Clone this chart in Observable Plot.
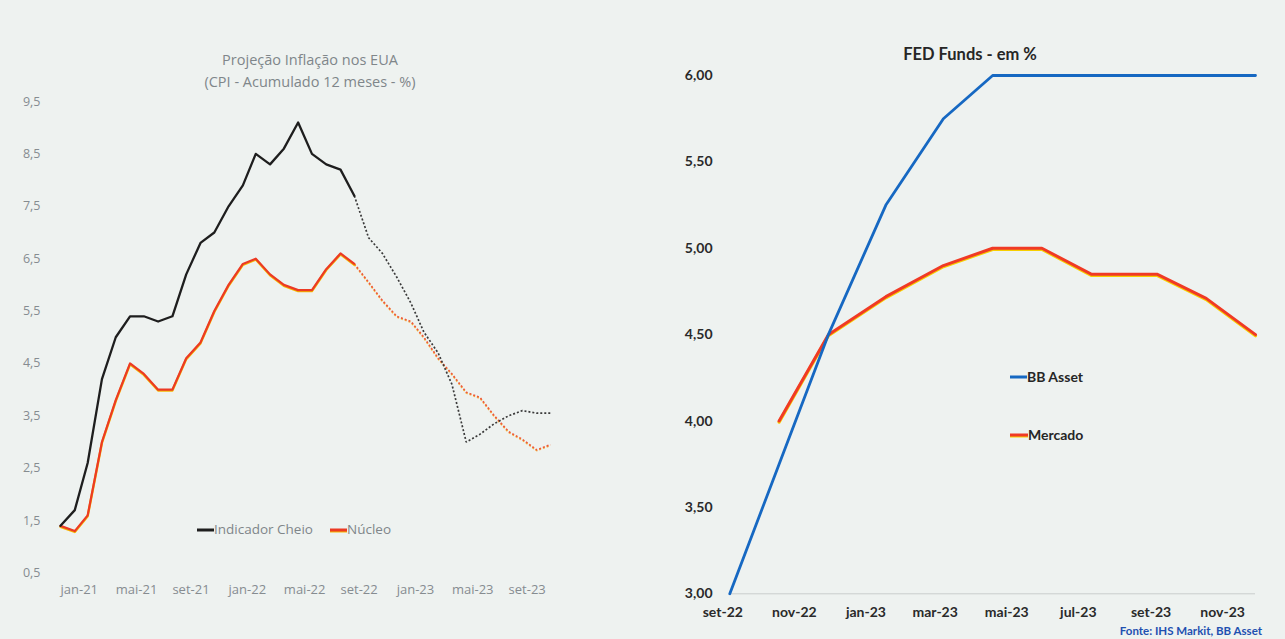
<!DOCTYPE html>
<html>
<head>
<meta charset="utf-8">
<script src="https://cdn.jsdelivr.net/npm/d3@7"></script>
<script src="https://cdn.jsdelivr.net/npm/@observablehq/plot@0.6"></script>
<style>
  html, body { margin: 0; padding: 0; background: #eef2f0; }
  #page { position: relative; width: 1285px; height: 639px; overflow: hidden; background: #eef2f0; }
  #page svg { position: absolute; top: 0; }
  .lbl { position: absolute; white-space: nowrap; transform: translateY(-50%); line-height: 1; }
  .ctr { transform: translate(-50%, -50%); }
  .key { position: absolute; height: 3px; transform: translateY(-50%); }
  .left-txt { font-family: "Open Sans", sans-serif; color: #7f868a; }
  .right-txt { font-family: "Lato", sans-serif; font-weight: 700; color: #262626; }
</style>
</head>
<body>
<div id="page"></div>
<script>
// ---- Inflação EUA: CPI acumulado 12 meses (%) ----
const meses = ["jan", "fev", "mar", "abr", "mai", "jun", "jul", "ago", "set", "out", "nov", "dez"];
const cpiMonths = d3.utcMonth.range(new Date(Date.UTC(2021, 0, 1)), new Date(Date.UTC(2024, 0, 1))); // jan-21 .. dez-23

// realizado: jan-21 .. out-22
const cheio  = [1.4, 1.7, 2.6, 4.2, 5.0, 5.4, 5.4, 5.3, 5.4, 6.2, 6.8, 7.0,
                7.5, 7.9, 8.5, 8.3, 8.6, 9.1, 8.5, 8.3, 8.2, 7.7];
const nucleo = [1.4, 1.3, 1.6, 3.0, 3.8, 4.5, 4.3, 4.0, 4.0, 4.6, 4.9, 5.5,
                6.0, 6.4, 6.5, 6.2, 6.0, 5.9, 5.9, 6.3, 6.6, 6.4];
// projeção: out-22 .. dez-23
const cheioProj  = [7.7, 6.9, 6.6, 6.15, 5.65, 5.1, 4.7, 4.1, 3.0, 3.15, 3.35, 3.5, 3.6, 3.55, 3.55];
const nucleoProj = [6.4, 6.05, 5.7, 5.4, 5.3, 5.0, 4.6, 4.3, 3.95, 3.85, 3.5, 3.2, 3.05, 2.85, 2.95];
const projStart = 21; // índice de out-22

const cpiYTicks = [0.5, 1.5, 2.5, 3.5, 4.5, 5.5, 6.5, 7.5, 8.5, 9.5];
const cpiXTicks = ["2021-01-01", "2021-05-01", "2021-09-01", "2022-01-01", "2022-05-01",
                   "2022-09-01", "2023-01-01", "2023-05-01", "2023-09-01"].map(d => new Date(d));

// ---- FED Funds (%) por reunião do FOMC ----
const fomcDatas = ["2022-09-21", "2022-11-02", "2022-12-14", "2023-02-01", "2023-03-22", "2023-05-03",
                   "2023-06-14", "2023-07-26", "2023-09-20", "2023-11-01", "2023-12-13"].map(d => new Date(d));
const bbAsset = [3.00, 3.75, 4.50, 5.25, 5.75, 6.00, 6.00, 6.00, 6.00, 6.00, 6.00];
const mercado = [null, 4.00, 4.50, 4.72, 4.90, 5.00, 5.00, 4.85, 4.85, 4.71, 4.50];

const fedYTicks = [3.0, 3.5, 4.0, 4.5, 5.0, 5.5, 6.0];
const fedXTicks = ["2022-09-15", "2022-11-15", "2023-01-15", "2023-03-15",
                   "2023-05-15", "2023-07-15", "2023-09-15", "2023-11-15"].map(d => new Date(d));

const fmtMes = d => `${meses[d.getUTCMonth()]}-${String(d.getUTCFullYear()).slice(2)}`;
const fmtVirgula = digits => v => v.toFixed(digits).replace(".", ",");

// tabelas para as marcas
const tCheio = cheio.map((v, i) => ({date: cpiMonths[i], v}));
const tNucleo = nucleo.map((v, i) => ({date: cpiMonths[i], v}));
const tCheioProj = cheioProj.map((v, i) => ({date: cpiMonths[projStart + i], v}));
const tNucleoProj = nucleoProj.map((v, i) => ({date: cpiMonths[projStart + i], v}));
const tBB = bbAsset.map((v, i) => ({date: fomcDatas[i], v}));
const tMerc = mercado.map((v, i) => ({date: fomcDatas[i], v})).filter(d => d.v != null);

const page = document.getElementById("page");
const dotted = {strokeWidth: 1.7, strokeDasharray: "2,2", strokeLinecap: "butt", strokeLinejoin: "miter"};

// ---------- gráfico da esquerda ----------
const cpiPlot = Plot.plot({
  width: 620,
  height: 639,
  marginLeft: 40,
  marginBottom: 59,
  marginTop: 0,
  marginRight: 0,
  style: {background: "transparent", fontFamily: "Open Sans, sans-serif", fontSize: "12.5px", color: "#868c90"},
  x: {type: "utc", domain: [cpiMonths[0], cpiMonths[cpiMonths.length - 1]], range: [60, 550], label: null},
  y: {domain: [0.5, 9.5], range: [572.5, 101], label: null},
  marks: [
    Plot.axisY({ticks: cpiYTicks, tickFormat: fmtVirgula(1), tickSize: 0, tickPadding: 0, label: null}),
    Plot.axisX({ticks: cpiXTicks, tickFormat: fmtMes, tickSize: 0, tickPadding: 4, textAnchor: "start", fontSize: 13, label: null}),
    // projeções (pontilhadas)
    Plot.line(tNucleoProj, {x: "date", y: "v", stroke: "#f3c04a", dy: 0.8, ...dotted}),
    Plot.line(tNucleoProj, {x: "date", y: "v", stroke: "#ee5a3c", ...dotted}),
    Plot.line(tCheioProj, {x: "date", y: "v", stroke: "#3a3a3a", ...dotted}),
    // realizado
    Plot.line(tNucleo, {x: "date", y: "v", stroke: "#f5b800", strokeWidth: 2.4, dy: 0.9, strokeLinejoin: "round"}),
    Plot.line(tNucleo, {x: "date", y: "v", stroke: "#ec3a24", strokeWidth: 2.2, strokeLinejoin: "round"}),
    Plot.line(tCheio, {x: "date", y: "v", stroke: "#1e1e1e", strokeWidth: 2.3, strokeLinejoin: "round"})
  ]
});
cpiPlot.style.left = "0px";
page.appendChild(cpiPlot);

// ---------- gráfico da direita ----------
const fedPlot = Plot.plot({
  width: 665,
  height: 639,
  marginLeft: 92,
  marginBottom: 45.7,
  marginTop: 0,
  marginRight: 0,
  style: {background: "transparent", fontFamily: "Lato, sans-serif", fontSize: "14px", fontWeight: 700, color: "#2a2a2a"},
  x: {type: "utc", domain: [fomcDatas[0], fomcDatas[fomcDatas.length - 1]], range: [109.3, 635], label: null},
  y: {domain: [3, 6], range: [593.3, 75], label: null},
  marks: [
    Plot.ruleY([{y: 3, x1: fomcDatas[0], x2: fomcDatas[fomcDatas.length - 1]}],
               {y: "y", x1: "x1", x2: "x2", stroke: "#c9cdcc", strokeWidth: 1}),
    Plot.axisY({ticks: fedYTicks, tickFormat: fmtVirgula(2), tickSize: 0, tickPadding: 0, label: null}),
    Plot.axisX({ticks: fedXTicks, tickFormat: fmtMes, tickSize: 0, tickPadding: 13.5, label: null}),
    Plot.line(tMerc, {x: "date", y: "v", stroke: "#f7cf00", strokeWidth: 3.2, dy: 1.1, strokeLinejoin: "round"}),
    Plot.line(tMerc, {x: "date", y: "v", stroke: "#f03a25", strokeWidth: 3, strokeLinejoin: "round"}),
    Plot.line(tBB, {x: "date", y: "v", stroke: "#1668c2", strokeWidth: 2.8, strokeLinejoin: "round"})
  ]
});
fedPlot.style.left = "620px";
page.appendChild(fedPlot);

// ---------- títulos, legendas e fonte ----------
function addText(html, x, y, cls, css) {
  const el = document.createElement("div");
  el.className = "lbl " + cls;
  el.innerHTML = html;
  el.style.left = x + "px";
  el.style.top = y + "px";
  Object.assign(el.style, css || {});
  page.appendChild(el);
}
function addKey(x, y, w, color, under) {
  if (under) {
    const u = document.createElement("div");
    u.className = "key";
    Object.assign(u.style, {left: x + "px", top: (y + 1) + "px", width: w + "px", background: under});
    page.appendChild(u);
  }
  const el = document.createElement("div");
  el.className = "key";
  Object.assign(el.style, {left: x + "px", top: y + "px", width: w + "px", background: color});
  page.appendChild(el);
}

addText("Projeção Inflação nos EUA", 310, 60, "ctr left-txt", {fontSize: "14.5px"});
addText("(CPI - Acumulado 12 meses - %)", 310, 81.5, "ctr left-txt", {fontSize: "14.5px"});

addKey(197, 530, 17, "#1e1e1e");
addText("Indicador Cheio", 214, 530, "left-txt", {fontSize: "13.5px"});
addKey(330, 530, 17, "#ec3a24", "#f5b800");
addText("Núcleo", 347, 530, "left-txt", {fontSize: "13.5px"});

addText("FED Funds - em %", 970, 54, "ctr right-txt", {fontSize: "16.5px"});

addKey(1010, 377, 17, "#1668c2");
addText("BB Asset", 1027, 377, "right-txt", {fontSize: "14px"});
addKey(1010, 435, 18, "#f03a25", "#f7cf00");
addText("Mercado", 1028, 435, "right-txt", {fontSize: "14px"});

addText("Fonte: IHS Markit, BB Asset", 1262, 631, "right-txt",
        {fontSize: "11.5px", color: "#1f50b0", transform: "translate(-100%, -50%)"});
</script>
</body>
</html>
